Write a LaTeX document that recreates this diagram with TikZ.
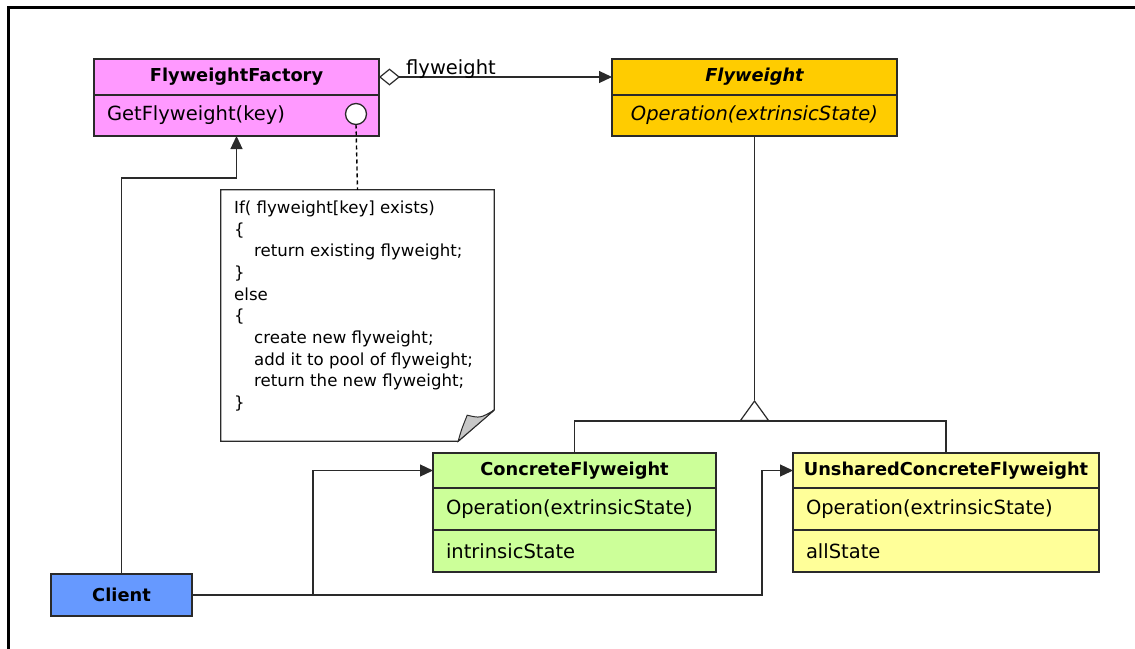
\documentclass[tikz,border=0pt]{standalone}
\usepackage{fontspec}
\setmainfont{DejaVu Sans}
\usetikzlibrary{arrows.meta,positioning,calc}
\definecolor{factorypink}{HTML}{FF99FF}
\definecolor{flyorange}{HTML}{FFCC00}
\definecolor{concretegreen}{HTML}{CCFF99}
\definecolor{unsharedyellow}{HTML}{FFFF99}
\definecolor{clientblue}{HTML}{6699FF}
\definecolor{umlline}{HTML}{2A2A2A}
\definecolor{foldgray}{HTML}{C8C8C8}
\newcommand{\headfont}{\fontsize{17.8}{20}\selectfont\bfseries}
\newcommand{\rowfont}{\fontsize{19.5}{22}\selectfont}
\newcommand{\notefont}{\fontsize{16.6}{21.7}\selectfont}
\tikzset{
  umlbox/.style={draw=umlline, line width=1.3pt, inner sep=0pt, outer sep=0pt},
  link/.style={draw=umlline, line width=1.2pt},
  arr/.style={link, -{Triangle[length=13pt,width=12pt]}},
}
\def\umlhead(#1,#2,#3,#4,#5,#6,#7){
  \node[umlbox, fill=#5, minimum width=#4, minimum height=#6] (#1) at (#2,#3) {\headfont #7};
}
\def\umlrow(#1,#2,#3,#4,#5,#6,#7){
  \pgfmathsetlengthmacro\rowtw{#3-26pt}
  \node[umlbox, fill=#5, minimum width=#3, minimum height=#4, inner xsep=13pt, text width=\rowtw, align=#6, below=0pt of #2] (#1) {\rowfont\raisebox{-2pt}{#7}};
}

\begin{document}
\begin{tikzpicture}[x=1pt, y=-1pt]
\useasboundingbox (0,0) rectangle (1135,648);
\fill[white] (0,0) rectangle (1135,648);
\draw[line width=3pt] (8,700) -- (8,7.5) -- (1200,7.5);
\umlhead(fhead,236.5,77,285pt,factorypink,36pt,FlyweightFactory)
\umlrow(fbody,fhead,285pt,41pt,factorypink,left,{GetFlyweight(key)})
\umlhead(fwhead,754.5,77,285pt,flyorange,36pt,{\itshape Flyweight})
\umlrow(fwbody,fwhead,285pt,41pt,flyorange,center,{\itshape Operation(extrinsicState)})
\umlhead(cfhead,574.5,470.5,283pt,concretegreen,35pt,ConcreteFlyweight)
\umlrow(cfop,cfhead,283pt,42pt,concretegreen,left,{Operation(extrinsicState)})
\umlrow(cfstate,cfop,283pt,42pt,concretegreen,left,intrinsicState)
\umlhead(ucfhead,946,470.5,306pt,unsharedyellow,35pt,UnsharedConcreteFlyweight)
\umlrow(ucfop,ucfhead,306pt,42pt,unsharedyellow,left,{Operation(extrinsicState)})
\umlrow(ucfstate,ucfop,306pt,42pt,unsharedyellow,left,allState)
\umlhead(client,121.5,595,141pt,clientblue,42pt,Client)
\node[umlbox, circle, fill=white, minimum size=21pt] (keycirc) at (356,114) {};
% note
\node[minimum width=273pt, minimum height=251pt, inner sep=0pt] (note) at (357.5,315.5) {};
\draw[umlbox, fill=white] (note.north west) -- (note.north east) -- ($(note.north east)+(0,220)$) -- ($(note.south east)+(-36,0)$) -- (note.south west) -- cycle;
\filldraw[fill=foldgray, draw=umlline, line width=1pt] ($(note.south east)+(0,-31)$) -- ($(note.south east)+(-36,0)$) .. controls ($(note.south east)+(-33,-11)$) .. ($(note.south east)+(-27,-26)$) .. controls ($(note.south east)+(-14,-23)$) .. ($(note.south east)+(0,-31)$);
\node[anchor=north west, align=left, inner sep=0pt, font=\notefont] (notetext) at (234,200.5) {If( flyweight[key] exists)\\ \{\\ \hspace*{20pt}return existing flyweight;\\ \}\\ else\\ \{\\ \hspace*{20pt}create new flyweight;\\ \hspace*{20pt}add it to pool of flyweight;\\ \hspace*{20pt}return the new flyweight;\\ \}};
\draw[link, black, line width=1.4pt, dash pattern=on 4pt off 3pt] (keycirc.south) -- (note.north);
% associations
\draw[link, {Diamond[open,length=21pt,width=17pt]}-{Triangle[length=13pt,width=12pt]}] (fhead.east) -- (fwhead.west);
\node[anchor=base west, inner sep=0pt, font=\rowfont] (flylabel) at (406,74) {flyweight};
\coordinate (factoryturn) at (236.5,178);
\draw[arr] (client.north) |- (factoryturn) -- (fbody.south);
\coordinate (cfsplit) at (313,595);
\coordinate (ucfturn) at (762,595);
\draw[arr] (client.east) -- (cfsplit) |- (cfhead.west);
\draw[arr] (cfsplit) -- (ucfturn) |- (ucfhead.west);
% generalization
\coordinate (genjoin) at (754.5,421);
\coordinate (genapex) at (754.5,400);
\draw[link] (fwbody.south) -- (genapex);
\draw[link] (cfhead.north) |- (genjoin) -| (ucfhead.north);
\draw[link, -{Triangle[open,length=21pt,width=30pt]}] (genjoin) -- (genapex);
\end{tikzpicture}
\end{document}
